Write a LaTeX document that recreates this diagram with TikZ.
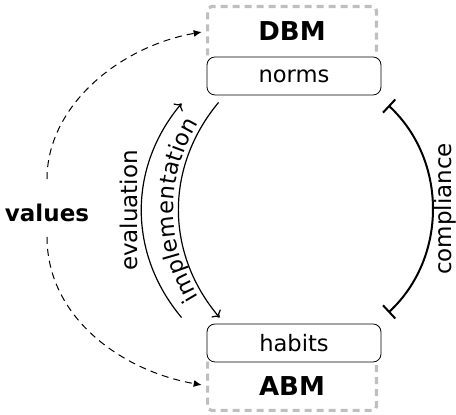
\documentclass[tikz,border=0pt]{standalone}
\usepackage{fontspec}
\setmainfont{DejaVu Sans}
\usetikzlibrary{arrows.meta,decorations.text}

\tikzset{
  box/.style={draw, rounded corners=4pt, fill=white, minimum width=87pt, minimum height=19pt, inner sep=0pt, font=\fontsize{11.3}{13}\selectfont},
  modlabel/.style={minimum width=84pt, minimum height=24pt, inner sep=0pt, font=\fontsize{13}{15}\selectfont\bfseries},
  frame/.style={draw=black!25, line width=1.6pt, dash pattern=on 3.5pt off 2.5pt, rounded corners=2pt},
  flow/.style={-{To[length=3pt,width=6pt]}, line width=0.6pt},
  valueflow/.style={-{Latex[length=4pt,width=3.5pt]}, dash pattern=on 3.5pt off 2.5pt, line width=0.5pt},
  lbl/.style={font=\fontsize{11.5}{13}\selectfont, inner sep=1.5pt},
}

\begin{document}
\begin{tikzpicture}[x=0.5pt, y=0.5pt]
\useasboundingbox (0,0) rectangle (456,415);
% model names and their frames
\node[modlabel] (dbm) at (292,384) {DBM};
\node[modlabel] (abm) at (292,29) {ABM};
\draw[frame] (dbm.south west) -- (dbm.north west) -- (dbm.north east) -- (dbm.south east);
\draw[frame] (abm.north west) -- (abm.south west) -- (abm.south east) -- (abm.north east);
% levels
\node[box] (norms) at (294,339) {norms};
\node[box] (habits) at (294,72) {habits};
\node[font=\fontsize{11.5}{14}\selectfont\bfseries] (values) at (47,202) {values};
% values feed both models
\draw[valueflow, shorten <=9pt, shorten >=3pt] (values.north) to[out=90,in=190] (dbm.west);
\draw[valueflow, shorten <=4pt, shorten >=3pt] (values.south) to[out=-90,in=170] (abm.west);
% links between norms and habits
\draw[flow] ([xshift=-12.5pt,yshift=3pt]habits.north west) to[bend left=40]
  node[midway, sloped, above, lbl] {evaluation} ([xshift=-12.5pt,yshift=-4pt]norms.south west);
\draw[flow, postaction={decorate, decoration={text along path, reverse path, text align=center, raise=2.5pt,
  text={|\fontsize{11.3}{13}\selectfont|implementation}}}]
  ([xshift=6pt,yshift=-3.5pt]norms.south west) to[bend right=40] ([xshift=6.5pt,yshift=3pt]habits.north west);
\draw[{Bar[width=9pt]}-{Bar[width=9pt]}, line width=1pt] ([xshift=3.5pt,yshift=5.5pt]habits.north east) to[bend right=47]
  node[midway, sloped, below, lbl, inner sep=0pt] {compliance} ([xshift=3.5pt,yshift=-5pt]norms.south east);
\end{tikzpicture}
\end{document}
